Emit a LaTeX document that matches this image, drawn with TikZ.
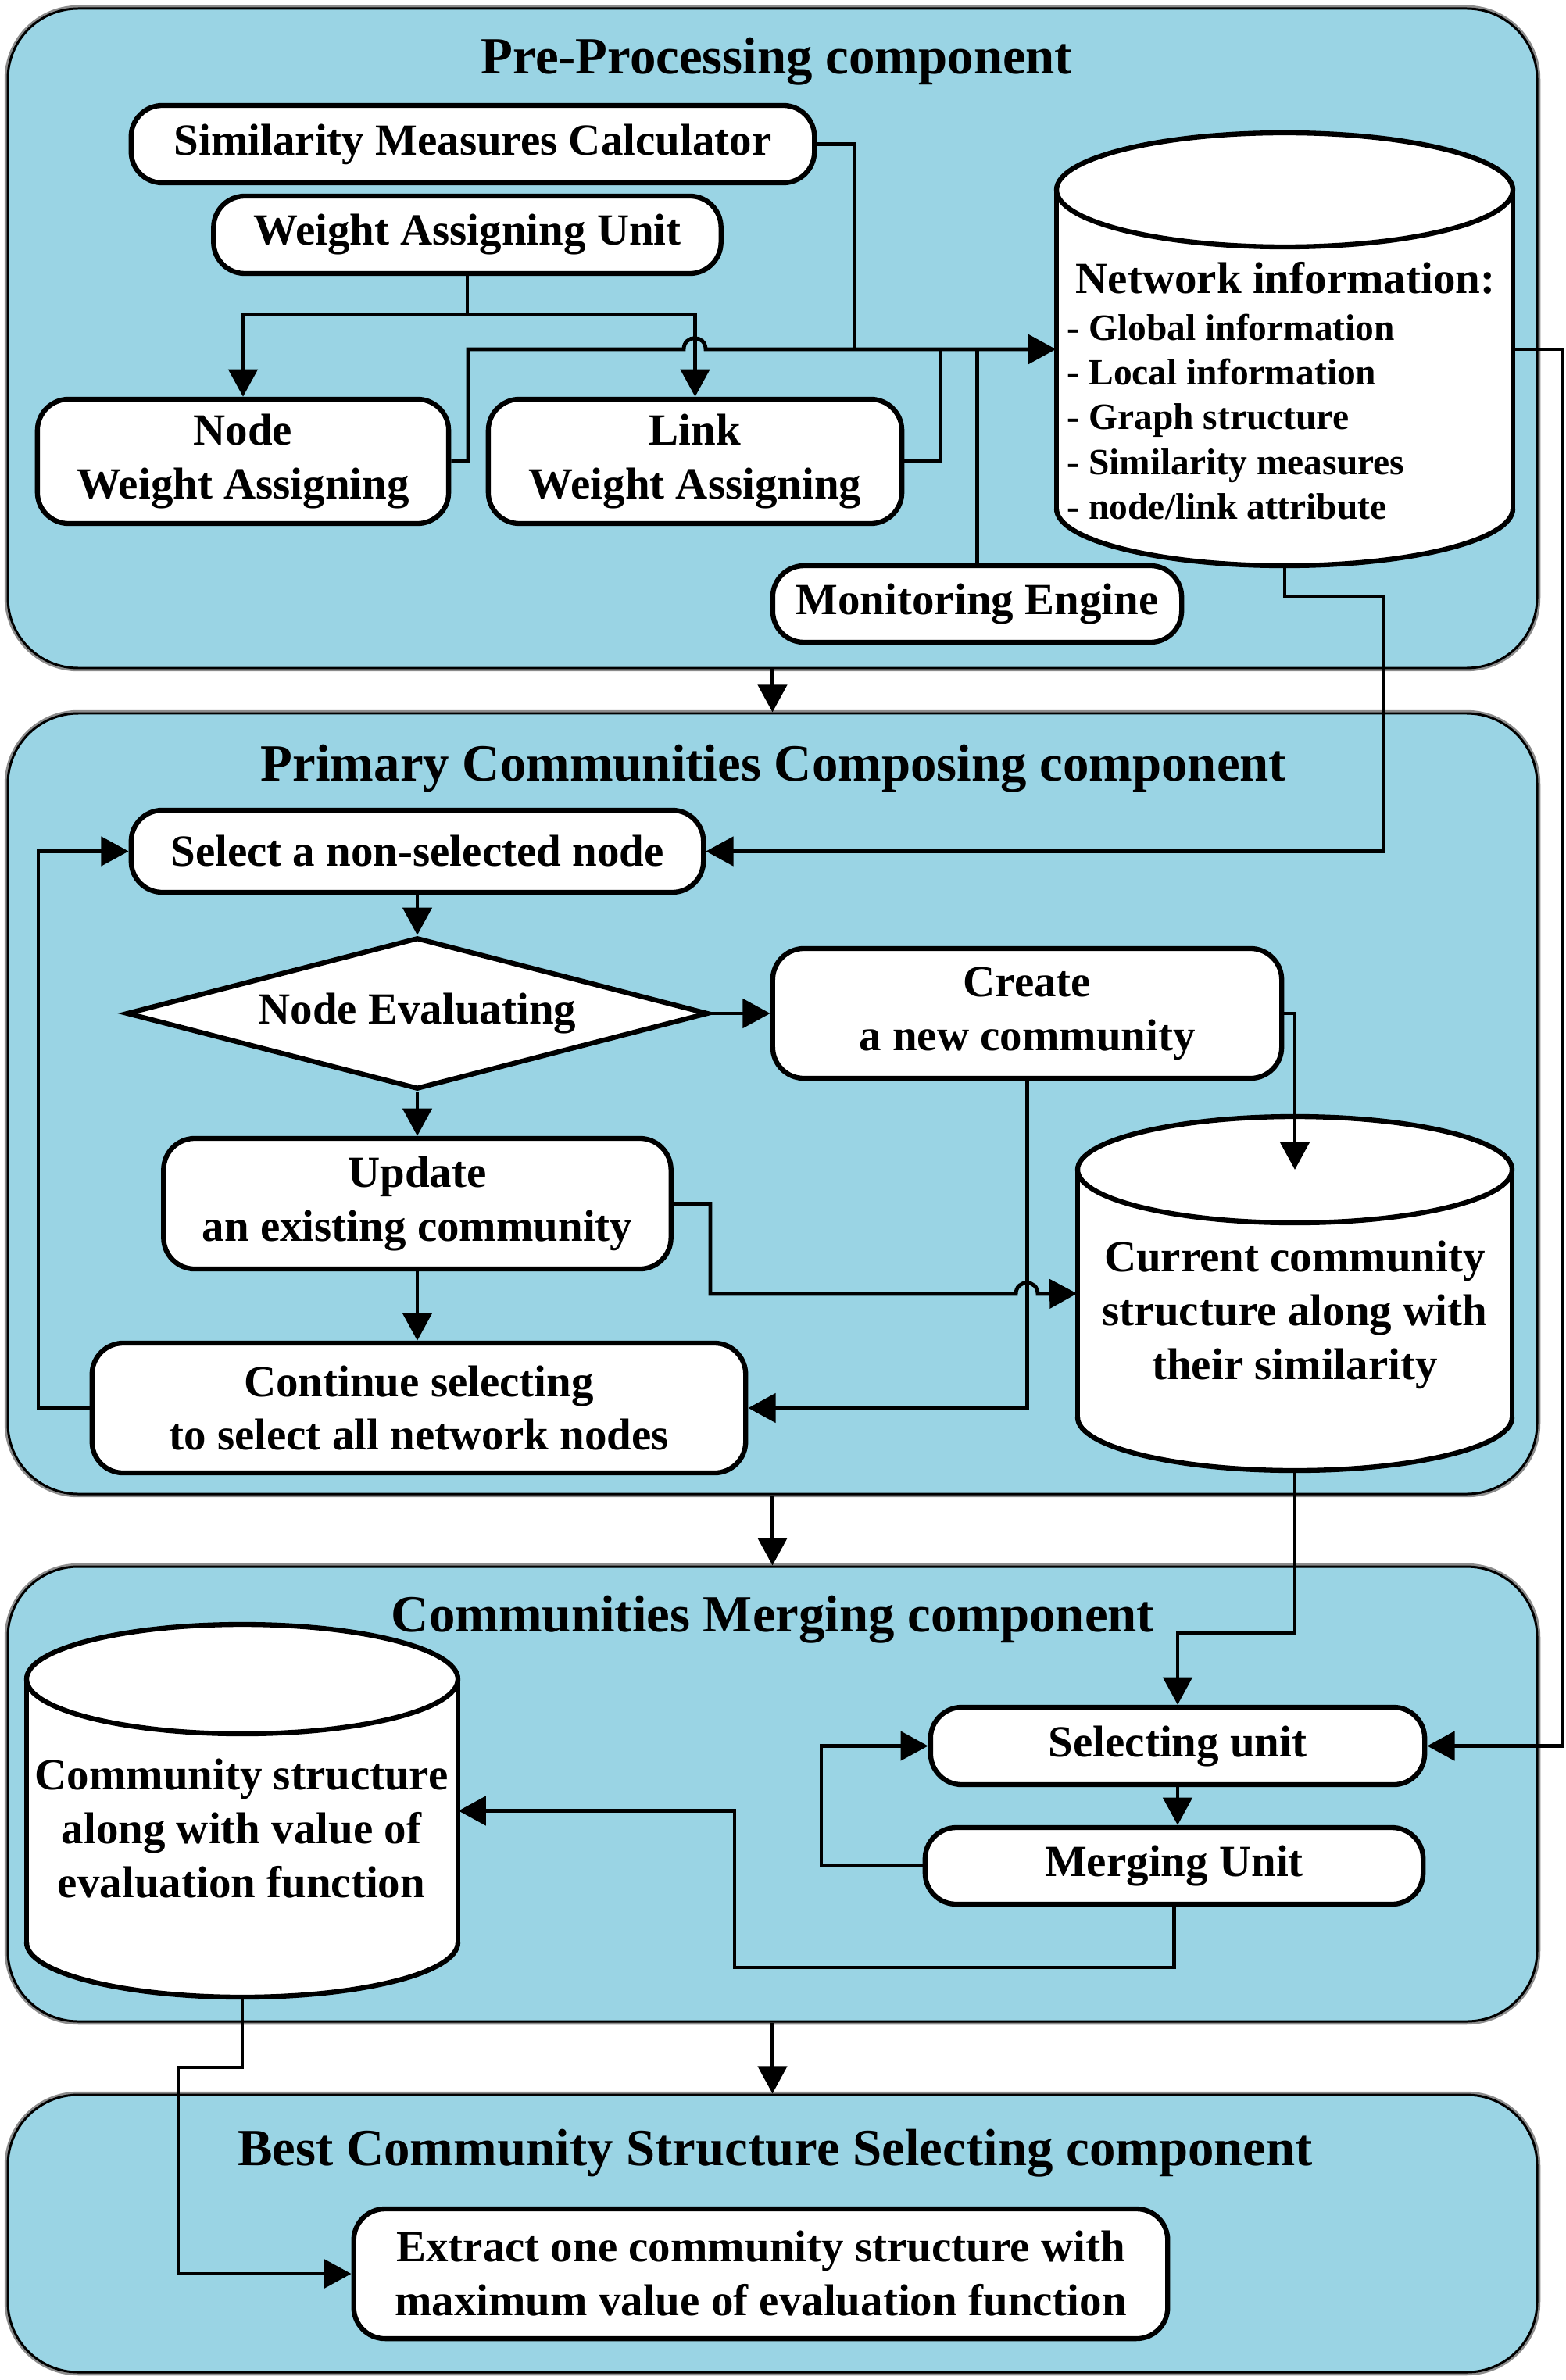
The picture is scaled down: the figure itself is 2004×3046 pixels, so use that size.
\documentclass[tikz,border=0pt]{standalone}
\usepackage{fontspec}
\setmainfont{Liberation Serif}
\usetikzlibrary{arrows.meta,shapes.geometric,fit}
\definecolor{panelblue}{RGB}{154,212,228}
\newcommand{\boxfont}{\bfseries\fontsize{16.2}{19.6}\selectfont}
% cylinder store: name, left, top, right, bottom, cap radius (px)
\newcommand{\dbcyl}[6]{%
  \node[fit={(#2,#3) (#4,#5)}, inner sep=0pt] (#1) {};
  \fill[white] (#2,#3+#6) rectangle (#4,#5-#6);
  \fill[white] ({(#2+#4)/2},#5-#6) ellipse[x radius={(#4-#2)/2}, y radius=#6];
  \begin{scope}
    \clip (#2-10,#5-#6) rectangle (#4+10,#5+10);
    \draw[cylline] ({(#2+#4)/2},#5-#6) ellipse[x radius={(#4-#2)/2}, y radius=#6];
  \end{scope}
  \draw[cylline] (#2,#3+#6) -- (#2,#5-#6) (#4,#3+#6) -- (#4,#5-#6);
  \draw[cylline, fill=white] ({(#2+#4)/2},#3+#6) ellipse[x radius={(#4-#2)/2}, y radius=#6];
}
\tikzset{
  panel/.style={draw=black, line width=0.85pt, fill=panelblue, rounded corners=0.9cm,
    inner sep=0pt, preaction={draw=black!45, line width=2.4pt}},
  unit/.style={draw, fill=white, line width=1.8pt, rounded corners=0.4cm, align=center,
    inner sep=0pt, font=\boxfont},
  cylline/.style={line width=1.8pt},
  title/.style={font=\bfseries\fontsize{19}{22}\selectfont},
  listitem/.style={font=\bfseries\fontsize{13.5}{16}\selectfont, inner sep=0pt},
  wire/.style={line width=1.4pt},
  arr/.style={line width=1.4pt, -{Triangle[length=10pt,width=10.5pt]}},
}
\begin{document}
\begin{tikzpicture}[x=0.01cm,y=-0.01cm]
\useasboundingbox (0,0) rectangle (2004,3046);

% panels
\node[panel, fit={(10,11) (1967,855)}] (p1) {};
\node[panel, fit={(10,913) (1967,1912)}] (p2) {};
\node[panel, fit={(10,2005) (1967,2587)}] (p3) {};
\node[panel, fit={(10,2681) (1967,3036)}] (p4) {};
\draw[arr] (p1.south) -- (p2.north);
\draw[arr] (p2.south) -- (p3.north);
\draw[arr] (p3.south) -- (p4.north);

\node[title, anchor=base] (t1) at (994,95) {Pre-Processing component};
\node[title, anchor=base] (t2) at (990,999) {Primary Communities Composing component};
\node[title, anchor=base] (t3) at (989,2088) {Communities Merging component};
\node[title, anchor=base] (t4) at (992,2771) {Best Community Structure Selecting component};

% pre-processing
\node[unit, minimum width=8.74cm, minimum height=0.99cm] (smc) at (605,184.5) {Similarity Measures Calculator};
\node[unit, minimum width=6.49cm, minimum height=0.99cm] (wau) at (598,300.5) {Weight Assigning Unit};
\node[unit, minimum width=5.26cm, minimum height=1.59cm] (nwa) at (311,590.5) {Node\\Weight Assigning};
\node[unit, minimum width=5.29cm, minimum height=1.59cm] (lwa) at (889.5,590.5) {Link\\Weight Assigning};
\node[unit, minimum width=5.23cm, minimum height=0.98cm] (me) at (1250.5,773) {Monitoring Engine};
\dbcyl{ni}{1352}{170}{1936}{724}{73}
\node[font=\boxfont, anchor=base] (niHead) at (1645,376) {Network information:};
\foreach \txt [count=\i] in {Global information, Local information, Graph structure,
    Similarity measures, node/link attribute}
  \node[listitem, anchor=base west] (niItem\i) at (1365,379+57*\i) {- \txt};

\draw[wire] (wau.south) -- (598,402) coordinate (wauFork);
\draw[arr] (wauFork) -| (nwa.north);
\draw[arr] (wauFork) -| (lwa.north);
\draw[arr] (nwa.east) -| (599,447) -- (875,447) .. controls (875,428) and (903,428) .. (903,447) -- (ni.west);
\draw[wire] (smc.east) -| (1093,447);
\draw[wire] (lwa.east) -| (1204,447);
\draw[wire] (me.north) -- (me.north |- ni.west);

% primary communities
\node[unit, minimum width=7.32cm, minimum height=1.05cm] (snn) at (534,1089.5) {Select a non-selected node};
\node[diamond, draw, fill=white, line width=1.8pt, aspect=3.8, inner sep=0pt, font=\boxfont,
  minimum width=7.44cm, minimum height=1.94cm] (ne) at (534,1297) {Node Evaluating};
\node[unit, minimum width=6.51cm, minimum height=1.66cm] (cnc) at (1314.5,1297) {Create\\a new community};
\node[unit, minimum width=6.49cm, minimum height=1.67cm] (uec) at (534,1540.5) {Update\\an existing community};
\node[unit, minimum width=8.36cm, minimum height=1.66cm] (cs) at (536,1802) {Continue selecting\\to select all network nodes};
\dbcyl{ccs}{1379}{1429}{1935}{1882}{68}
\coordinate (ccsCap) at (1657,1497);
\node[font=\boxfont, align=center] (ccsText) at (1657,1683) {Current community\\structure along with\\their similarity};

\draw[arr] (snn.south) -- (ne.north);
\draw[arr] (ne.south) -- (uec.north);
\draw[arr] (ne.east) -- (cnc.west);
\draw[arr] (cnc.east) -| (ccsCap);
\draw[arr] (cnc.south) |- (cs.east);
\draw[arr] (uec.east) -| (909,1656) -- (1300,1656) .. controls (1300,1637) and (1328,1637) .. (1328,1656) -- (ccs.west);
\draw[arr] (uec.south) -- (uec.south |- cs.north);
\draw[arr] (cs.west) -- (49,1802) |- (snn.west);

% merging
\dbcyl{cse}{34}{2079}{586}{2556}{70}
\node[font=\boxfont, align=center] (cseText) at (309,2340) {Community structure\\along with value of\\evaluation function};
\node[unit, minimum width=6.32cm, minimum height=0.99cm] (su) at (1507,2234.5) {Selecting unit};
\node[unit, minimum width=6.37cm, minimum height=0.98cm] (mu) at (1502.5,2388) {Merging Unit};

\draw[arr] (ccs.south) -- (1657,2090) -| (su.north);
\draw[arr] (su.south) -- (su.south |- mu.north);
\draw[arr] (mu.west) -- (1051,2388) |- (su.west);
\draw[arr] (mu.south) |- (940,2518) |- (cse.east);

% links from network information
\draw[arr] (ni.south) |- (1771,763) |- (snn.east);
\draw[arr] (ni.east) -- (2000,447) |- (su.east);

% best structure
\node[unit, minimum width=10.41cm, minimum height=1.66cm] (ext) at (973.5,2910) {Extract one community structure with\\maximum value of evaluation function};
\draw[arr] (cse.south) |- (228,2646) |- (ext.west);
\end{tikzpicture}
\end{document}
